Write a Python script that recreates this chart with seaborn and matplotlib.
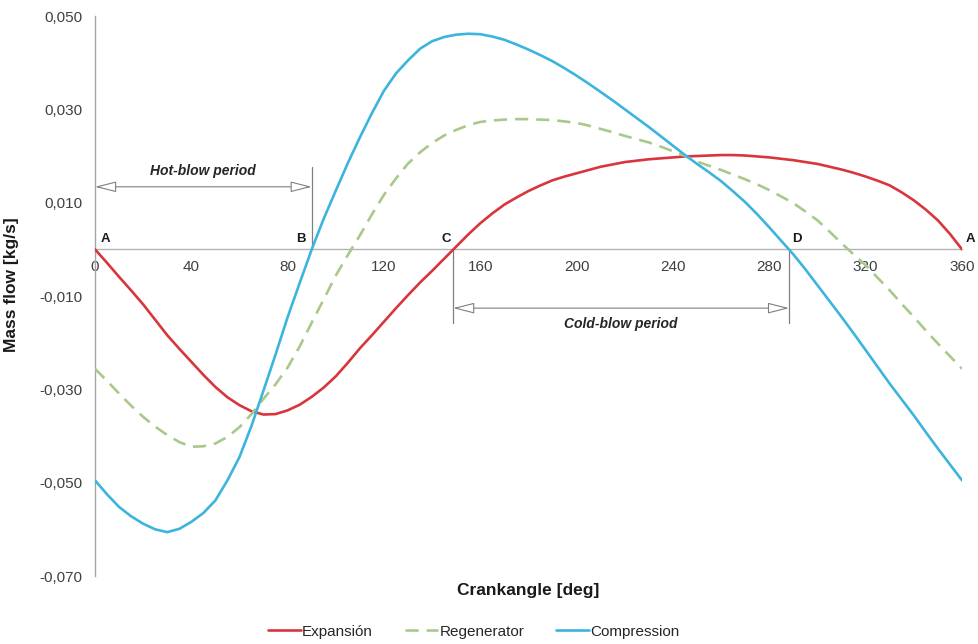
import matplotlib
matplotlib.use("Agg")
import matplotlib.pyplot as plt
from matplotlib.ticker import FuncFormatter, FixedLocator
import seaborn as sns
import pandas as pd

# Crank angle [deg] (every 5 deg) and mass flow [kg/s] for each space of the engine
crankangle = list(range(0, 361, 5))
expansion = [
    0.0, -0.0029, -0.0059, -0.0088, -0.0118, -0.0151, -0.0184, -0.0213,
    -0.0241, -0.0269, -0.0295, -0.0317, -0.0334, -0.0347, -0.0354, -0.0353,
    -0.0345, -0.0333, -0.0316, -0.0296, -0.0272, -0.0243, -0.0212, -0.0184,
    -0.0155, -0.0126, -0.0098, -0.0071, -0.0046, -0.0020, 0.0006, 0.0032,
    0.0056, 0.0077, 0.0096, 0.0111, 0.0125, 0.0137, 0.0148, 0.0156,
    0.0163, 0.0170, 0.0177, 0.0182, 0.0187, 0.0190, 0.0193, 0.0195,
    0.0197, 0.0199, 0.0200, 0.0201, 0.0202, 0.0202, 0.0201, 0.0199,
    0.0197, 0.0194, 0.0191, 0.0187, 0.0183, 0.0177, 0.0171, 0.0164,
    0.0156, 0.0147, 0.0137, 0.0122, 0.0105, 0.0085, 0.0062, 0.0033,
    0.0,
]
regenerator = [
    -0.0256, -0.0282, -0.0309, -0.0335, -0.0359, -0.0380, -0.0398, -0.0413,
    -0.0423, -0.0422, -0.0416, -0.0402, -0.0381, -0.0353, -0.0320, -0.0289,
    -0.0253, -0.0208, -0.0157, -0.0107, -0.0056, -0.0012, 0.0030, 0.0075,
    0.0117, 0.0152, 0.0184, 0.0208, 0.0228, 0.0244, 0.0256, 0.0266,
    0.0273, 0.0276, 0.0278, 0.0279, 0.0279, 0.0278, 0.0277, 0.0274,
    0.0271, 0.0265, 0.0258, 0.0251, 0.0243, 0.0236, 0.0229, 0.0220,
    0.0210, 0.0200, 0.0188, 0.0179, 0.0170, 0.0160, 0.0150, 0.0139,
    0.0127, 0.0113, 0.0099, 0.0081, 0.0062, 0.0038, 0.0013, -0.0011,
    -0.0034, -0.0061, -0.0088, -0.0117, -0.0145, -0.0174, -0.0202, -0.0229,
    -0.0256,
]
compression = [
    -0.0495, -0.0525, -0.0552, -0.0572, -0.0588, -0.0600, -0.0606, -0.0599,
    -0.0584, -0.0565, -0.0538, -0.0495, -0.0445, -0.0378, -0.0302, -0.0225,
    -0.0145, -0.0072, 0.0, 0.0066, 0.0126, 0.0185, 0.0240, 0.0292,
    0.0340, 0.0377, 0.0405, 0.0430, 0.0446, 0.0455, 0.0460, 0.0462,
    0.0461, 0.0456, 0.0449, 0.0439, 0.0428, 0.0416, 0.0403, 0.0388,
    0.0372, 0.0355, 0.0337, 0.0319, 0.0300, 0.0281, 0.0262, 0.0242,
    0.0222, 0.0202, 0.0183, 0.0165, 0.0146, 0.0124, 0.0101, 0.0075,
    0.0047, 0.0018, -0.0011, -0.0043, -0.0077, -0.0111, -0.0145, -0.0180,
    -0.0216, -0.0252, -0.0288, -0.0322, -0.0356, -0.0392, -0.0427, -0.0461,
    -0.0495,
]

series_names = ["Expansión", "Regenerator", "Compression"]
series_colors = ["#d8363c", "#a9c98c", "#3cb4dd"]
x_ticks = [0, 40, 80, 120, 160, 200, 240, 280, 320, 360]
y_ticks = [-0.070, -0.050, -0.030, -0.010, 0.010, 0.030, 0.050]

# Blow periods and the points A-D on the zero line
hot_blow = (0.0, 90.0)
cold_blow = (148.7, 288.2)
point_labels = ["A", "B", "C", "D", "A"]
point_angles = [0.0, 90.0, 148.7, 288.2, 360.0]

df = pd.DataFrame({
    "Crankangle": crankangle * 3,
    "Mass flow": expansion + regenerator + compression,
    "Series": sum([[n] * len(crankangle) for n in series_names], []),
})

sns.set_theme(style="white")
plt.rcParams["font.family"] = ["Liberation Sans", "DejaVu Sans"]

fig = plt.figure(figsize=(9.79, 6.44), dpi=100)
ax = fig.add_axes([95 / 979, 1 - 576 / 644, 867 / 979, 560 / 644])

sns.lineplot(
    data=df, x="Crankangle", y="Mass flow", hue="Series", style="Series",
    hue_order=series_names, style_order=series_names,
    palette=dict(zip(series_names, series_colors)),
    dashes={"Expansión": "", "Regenerator": (5, 3), "Compression": ""},
    linewidth=1.9, ax=ax, legend=True, zorder=3,
)
for line in ax.get_lines():
    line.set_solid_joinstyle("round")
    line.set_dash_joinstyle("round")

ax.set_xlim(0, 360)
ax.set_ylim(-0.070, 0.050)

# axis styling: left spine and a zero line carrying the x tick labels
for s in ["top", "right"]:
    ax.spines[s].set_visible(False)
ax.spines["bottom"].set_position(("data", 0))
ax.spines["left"].set_color("#a6a6a6")
ax.spines["bottom"].set_color("#b3b3b3")
ax.spines["left"].set_linewidth(1.0)
ax.spines["bottom"].set_linewidth(1.0)
ax.spines["left"].set_zorder(1)
ax.spines["bottom"].set_zorder(1)

ax.xaxis.set_major_locator(FixedLocator(x_ticks))
ax.yaxis.set_major_locator(FixedLocator(y_ticks))
ax.yaxis.set_major_formatter(FuncFormatter(lambda v, p: f"{v:.3f}".replace(".", ",")))
ax.tick_params(axis="both", length=0, labelsize=11, colors="#404040")
ax.tick_params(axis="x", pad=8)
ax.tick_params(axis="y", pad=9)

ax.set_xlabel("Crankangle [deg]", fontsize=12.5, fontweight="bold", color="#1a1a1a")
ax.set_ylabel("Mass flow [kg/s]", fontsize=12.5, fontweight="bold", color="#1a1a1a")
ax.xaxis.set_label_coords(0.5, -0.012)
ax.yaxis.set_label_coords(-0.088, 0.52)

gray = "#808080"
arrow_style = "<|-|>,head_length=1.1,head_width=0.28"

# Hot-blow period
ax.plot([hot_blow[1], hot_blow[1]], [0.0, 0.0176], color=gray, lw=0.9, zorder=2)
ax.annotate("", xy=(hot_blow[0], 0.0134), xytext=(hot_blow[1], 0.0134),
            arrowprops=dict(arrowstyle=arrow_style, fc="white", ec=gray, lw=0.8,
                            shrinkA=0, shrinkB=0), zorder=2)
ax.text(sum(hot_blow) / 2, 0.0167, "Hot-blow period", ha="center", va="center",
        fontsize=10, fontweight="bold", style="italic", color="#262626")

# Cold-blow period
for xv in cold_blow:
    ax.plot([xv, xv], [0.0, -0.0157], color=gray, lw=0.9, zorder=2)
ax.annotate("", xy=(cold_blow[0], -0.0126), xytext=(cold_blow[1], -0.0126),
            arrowprops=dict(arrowstyle=arrow_style, fc="white", ec=gray, lw=0.8,
                            shrinkA=0, shrinkB=0), zorder=2)
ax.text(sum(cold_blow) / 2, -0.0160, "Cold-blow period", ha="center", va="center",
        fontsize=10, fontweight="bold", style="italic", color="#262626")

# Point labels
offsets = [4.2, -4.5, -2.9, 3.3, 3.4]
for lab, xv, dx in zip(point_labels, point_angles, offsets):
    ax.text(xv + dx, 0.0022, lab, ha="center", va="center", fontsize=9.5,
            fontweight="bold", color="#1a1a1a", clip_on=False)

# Legend below the plot
handles, labels = ax.get_legend_handles_labels()
ax.get_legend().remove()
fig.legend(handles, labels, loc="center", bbox_to_anchor=(0.484, 0.019), ncol=3,
           frameon=False, fontsize=11, handlelength=2.15, handletextpad=0.1,
           columnspacing=2.1, labelcolor="#262626")

fig.savefig("out.png", dpi=100, facecolor="white")
